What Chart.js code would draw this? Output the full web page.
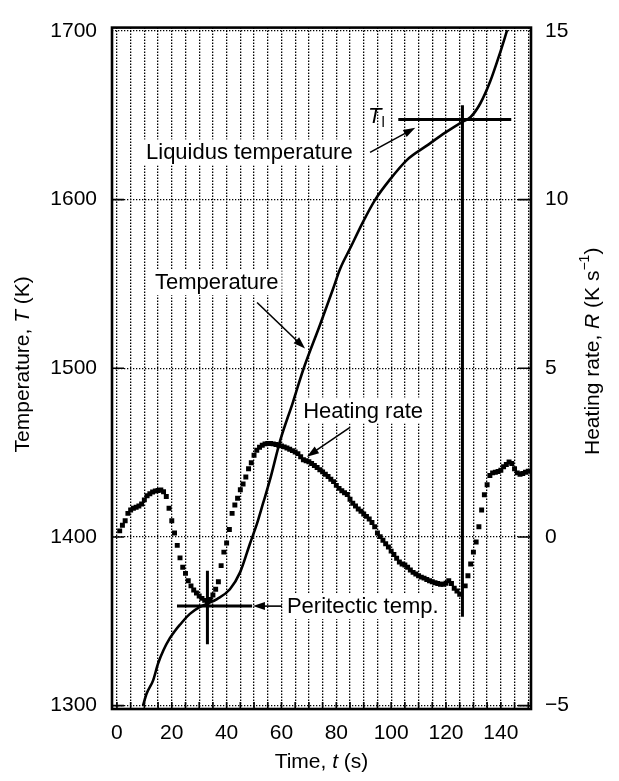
<!DOCTYPE html>
<html>
<head>
<meta charset="utf-8">
<script src="https://cdn.jsdelivr.net/npm/chart.js@4.4.1/dist/chart.umd.min.js"></script>
<style>
  html, body { margin: 0; padding: 0; background: #fff; }
  #wrap { width: 619px; height: 781px; }
</style>
</head>
<body>
<div id="wrap"><canvas id="heatingChart" width="619" height="781"></canvas></div>
<script>
// temperature curve (t in s, T in K)
const tempTimes = [9.5, 10.8, 13.2, 15, 17, 19.3, 21, 23, 26.6, 30.3, 32.8, 36.5, 41.2, 44.9, 48.5, 51.1,
    53.3, 56, 59.5, 64.2, 67.9, 74.1, 78.8, 81.4, 85, 89.8, 94.2, 99.6, 105.8, 113, 120, 125.8, 129,
    132.5, 136.1, 139.8, 142.3];
const tempValues = [1300, 1307, 1315, 1325, 1333, 1340, 1344, 1348, 1354.4, 1358.5, 1360.3, 1363.2, 1369,
    1379, 1396, 1408, 1420, 1435, 1457, 1480, 1499, 1526, 1547, 1559, 1571, 1587, 1600, 1612, 1623.6,
    1632, 1640, 1646, 1649, 1657, 1670, 1687.5, 1700.5];

// heating rate samples (t in s, R in K/s)
const rateTimes = [1, 2, 3, 4, 5, 6, 7, 8, 9, 10, 11, 12, 13, 14, 15, 16, 17, 18, 19, 20,
    21, 22, 23, 24, 25, 26, 27, 28, 29, 30, 31, 32, 33, 34, 35, 36, 37, 38, 39, 40,
    41, 42, 43, 44, 45, 46, 47, 48, 49, 50, 51, 52, 53, 54, 55, 56, 57, 58, 59, 60,
    61, 62, 63, 64, 65, 66, 67, 68, 69, 70, 71, 72, 73, 74, 75, 76, 77, 78, 79, 80,
    81, 82, 83, 84, 85, 86, 87, 88, 89, 90, 91, 92, 93, 94, 95, 96, 97, 98, 99, 100,
    101, 102, 103, 104, 105, 106, 107, 108, 109, 110, 111, 112, 113, 114, 115, 116, 117, 118, 119, 120,
    121, 122, 123, 124, 125, 127, 128, 129, 130, 131, 132, 133, 134, 135, 136, 137, 138, 139, 140,
    141, 142, 143, 144, 145, 146, 147, 148, 149, 150];
const rateValues = [0.18, 0.35, 0.48, 0.70, 0.80, 0.85, 0.88, 0.92, 0.98, 1.10, 1.22, 1.28, 1.33, 1.36, 1.38, 1.39, 1.34, 1.20, 0.85, 0.48,
    0.12, -0.25, -0.62, -0.90, -1.08, -1.30, -1.45, -1.57, -1.66, -1.75, -1.82, -1.88, -1.93, -1.85, -1.72, -1.55, -1.33, -0.85, -0.45, -0.18,
    0.22, 0.70, 0.95, 1.15, 1.40, 1.57, 1.78, 2.02, 2.20, 2.42, 2.57, 2.66, 2.72, 2.76, 2.77, 2.77, 2.76, 2.74, 2.72, 2.70,
    2.67, 2.64, 2.60, 2.56, 2.52, 2.47, 2.38, 2.29, 2.26, 2.23, 2.18, 2.12, 2.06, 1.99, 1.93, 1.86, 1.79, 1.71, 1.64, 1.53,
    1.44, 1.37, 1.31, 1.26, 1.12, 1.00, 0.92, 0.83, 0.76, 0.68, 0.61, 0.53, 0.43, 0.30, 0.12, 0.01, -0.10, -0.20, -0.30, -0.42,
    -0.52, -0.63, -0.74, -0.80, -0.83, -0.90, -0.98, -1.05, -1.10, -1.15, -1.19, -1.22, -1.26, -1.30, -1.33, -1.36, -1.38, -1.40, -1.40, -1.37,
    -1.30, -1.38, -1.52, -1.60, -1.70, -1.45, -1.15, -0.80, -0.45, -0.15, 0.30, 0.80, 1.25, 1.55, 1.82, 1.90, 1.92, 1.94, 1.98,
    2.08, 2.15, 2.22, 2.18, 2.02, 1.90, 1.86, 1.88, 1.92, 1.95];

// marker crosses
const liquidusTimes = [102.6, 143.8];
const liquidusTemps = [1647.5, 1647.5];
const liquidusMarkTimes = [126, 126];
const liquidusMarkTemps = [1656, 1352.7];
const peritecticTimes = [21.9, 49.3];
const peritecticTemps = [1359.1, 1359.1];
const peritecticMarkTimes = [33, 33];
const peritecticMarkTemps = [1380, 1336.4];

// ticks
const xGridTicks = [0, 5, 10, 15, 20, 25, 30, 35, 40, 45, 50, 55, 60, 65, 70, 75,
    80, 85, 90, 95, 100, 105, 110, 115, 120, 125, 130, 135, 140, 145, 150];
const xLabelTicks = [0, 20, 40, 60, 80, 100, 120, 140];
const tempTicks = [1300, 1400, 1500, 1600, 1700];
const rateTicks = [-5, 0, 5, 10, 15];

// text notes: [text, t, T] (left edge, vertical middle) and arrows [t0, T0, t1, T1]
const notes = [
    ["Liquidus temperature", 10.6, 1628],
    ["Temperature", 13.9, 1551],
    ["Heating rate", 67.9, 1475],
    ["Peritectic temp.", 62, 1359]
];
const arrows = [
    [92.3, 1628, 108.8, 1642.6],
    [51.1, 1539, 68.6, 1511.7],
    [85, 1465, 69.3, 1447.6],
    [60.2, 1359, 49.6, 1359]
];

const FONT = '"Liberation Sans", Arial, Helvetica, sans-serif';

const toPoints = (xs, ys) => xs.map((x, i) => ({ x, y: ys[i] }));
const fixTicks = (values) => (scale) => { scale.ticks = values.map((v) => ({ value: v })); };

function drawRuns(ctx, runs, cx, cy, rotate) {
    ctx.save();
    ctx.translate(cx, cy);
    if (rotate) ctx.rotate(-Math.PI / 2);
    let total = 0;
    runs.forEach((r) => {
        ctx.font = r.font;
        total += ctx.measureText(r.text).width;
    });
    let x = -total / 2;
    ctx.textBaseline = "middle";
    ctx.textAlign = "left";
    runs.forEach((r) => {
        ctx.font = r.font;
        ctx.fillText(r.text, x, r.dy || 0);
        x += ctx.measureText(r.text).width;
    });
    ctx.restore();
}

function arrowHead(ctx, x0, y0, x1, y1) {
    const a = Math.atan2(y1 - y0, x1 - x0);
    const len = 12, half = 4;
    ctx.beginPath();
    ctx.moveTo(x1, y1);
    ctx.lineTo(x1 - len * Math.cos(a) + half * Math.sin(a), y1 - len * Math.sin(a) - half * Math.cos(a));
    ctx.lineTo(x1 - len * Math.cos(a) - half * Math.sin(a), y1 - len * Math.sin(a) + half * Math.cos(a));
    ctx.closePath();
    ctx.fill();
}

const framePlugin = {
    id: "frameAndNotes",
    afterDatasetsDraw(chart) {
        const { ctx, chartArea: area, scales } = chart;
        const xs = scales.x, ys = scales.y, ys2 = scales.y2;
        ctx.save();
        ctx.strokeStyle = "#000";
        ctx.fillStyle = "#000";

        // inward ticks
        ctx.lineWidth = 1.6;
        ctx.beginPath();
        xGridTicks.forEach((t) => {
            const px = xs.getPixelForValue(t);
            ctx.moveTo(px, area.bottom);
            ctx.lineTo(px, area.bottom - 7);
        });
        tempTicks.slice(0, 4).forEach((v) => {
            const py = ys.getPixelForValue(v);
            ctx.moveTo(area.left, py);
            ctx.lineTo(area.left + 12, py);
        });
        rateTicks.slice(0, 4).forEach((v) => {
            const py = ys2.getPixelForValue(v);
            ctx.moveTo(area.right, py);
            ctx.lineTo(area.right - 13, py);
        });
        ctx.stroke();

        // frame
        ctx.lineWidth = 2.6;
        ctx.strokeRect(area.left, area.top, area.right - area.left, area.bottom - area.top);

        // notes with white backing
        ctx.font = "22px " + FONT;
        ctx.textBaseline = "middle";
        ctx.textAlign = "left";
        notes.forEach(([text, t, T]) => {
            const px = xs.getPixelForValue(t);
            const py = ys.getPixelForValue(T);
            const w = ctx.measureText(text).width;
            ctx.fillStyle = "#fff";
            ctx.fillRect(px - 3, py - 13, w + 6, 26);
            ctx.fillStyle = "#000";
            ctx.fillText(text, px, py + 1);
        });

        // T_l label
        const tlx = xs.getPixelForValue(91.6);
        const tly = ys.getPixelForValue(1649);
        ctx.font = "italic 22px " + FONT;
        ctx.fillText("T", tlx, tly);
        const tw = ctx.measureText("T").width;
        ctx.font = "15px " + FONT;
        ctx.fillText("l", tlx + tw, tly + 6);

        // arrows
        ctx.lineWidth = 1.6;
        arrows.forEach(([t0, T0, t1, T1]) => {
            const x0 = xs.getPixelForValue(t0), y0 = ys.getPixelForValue(T0);
            const x1 = xs.getPixelForValue(t1), y1 = ys.getPixelForValue(T1);
            const a = Math.atan2(y1 - y0, x1 - x0);
            ctx.beginPath();
            ctx.moveTo(x0, y0);
            ctx.lineTo(x1 - 8 * Math.cos(a), y1 - 8 * Math.sin(a));
            ctx.stroke();
            arrowHead(ctx, x0, y0, x1, y1);
        });

        // axis titles
        const midY = (area.top + area.bottom) / 2;
        const f = "21px " + FONT, fi = "italic 21px " + FONT;
        drawRuns(ctx, [
            { text: "Temperature, ", font: f },
            { text: "T", font: fi },
            { text: " (K)", font: f }
        ], area.left - 89, midY - 4, true);
        drawRuns(ctx, [
            { text: "Heating rate, ", font: f },
            { text: "R", font: fi },
            { text: " (K s", font: f },
            { text: "\u22121", font: "14px " + FONT, dy: -8 },
            { text: ")", font: f }
        ], area.right + 62, midY - 17, true);
        drawRuns(ctx, [
            { text: "Time, ", font: f },
            { text: "t", font: fi },
            { text: " (s)", font: f }
        ], (area.left + area.right) / 2, area.bottom + 53, false);

        ctx.restore();
    }
};

const lineStyle = {
    showLine: true,
    borderColor: "#000",
    borderWidth: 3,
    pointRadius: 0,
    yAxisID: "y"
};

const tickFont = { family: FONT, size: 21 };

new Chart(document.getElementById("heatingChart"), {
    type: "scatter",
    data: {
        datasets: [
            {
                label: "Heating rate",
                data: toPoints(rateTimes, rateValues),
                yAxisID: "y2",
                showLine: false,
                pointStyle: "rect",
                pointRadius: 3.5,
                pointBorderWidth: 0,
                backgroundColor: "#000",
                borderColor: "#000"
            },
            {
                ...lineStyle,
                label: "Temperature",
                data: toPoints(tempTimes, tempValues),
                borderWidth: 2.6,
                cubicInterpolationMode: "monotone"
            },
            { ...lineStyle, label: "T_l", data: toPoints(liquidusTimes, liquidusTemps) },
            { ...lineStyle, label: "T_l mark", data: toPoints(liquidusMarkTimes, liquidusMarkTemps) },
            { ...lineStyle, label: "Peritectic", data: toPoints(peritecticTimes, peritecticTemps) },
            { ...lineStyle, label: "Peritectic mark", data: toPoints(peritecticMarkTimes, peritecticMarkTemps) }
        ]
    },
    options: {
        responsive: false,
        animation: false,
        layout: { padding: { top: 15, left: 0, right: 0, bottom: 0 } },
        plugins: {
            legend: { display: false },
            tooltip: { enabled: false }
        },
        scales: {
            x: {
                type: "linear",
                min: -1.8,
                max: 151,
                afterBuildTicks: fixTicks(xGridTicks),
                afterFit: (scale) => { scale.height = 72; },
                grid: { color: "#000", lineWidth: 1.3, drawTicks: false },
                border: { display: false, dash: [1.3, 1.7] },
                ticks: {
                    autoSkip: false,
                    maxRotation: 0,
                    padding: 12,
                    color: "#000",
                    font: tickFont,
                    callback: (v) => (xLabelTicks.includes(v) ? String(v) : "")
                }
            },
            y: {
                position: "left",
                min: 1298,
                max: 1702,
                afterBuildTicks: fixTicks(tempTicks),
                afterFit: (scale) => { scale.width = 112; },
                grid: { color: "#000", lineWidth: 1.3, drawTicks: false },
                border: { display: false, dash: [1.3, 1.7] },
                ticks: {
                    padding: 15,
                    color: "#000",
                    font: tickFont,
                    callback: (v) => String(v)
                }
            },
            y2: {
                position: "right",
                min: -5.1,
                max: 15.1,
                afterBuildTicks: fixTicks(rateTicks),
                afterFit: (scale) => { scale.width = 88; },
                grid: { display: false, drawTicks: false },
                border: { display: false },
                ticks: {
                    padding: 14,
                    color: "#000",
                    font: tickFont,
                    callback: (v) => (v < 0 ? "\u2212" + Math.abs(v) : String(v))
                }
            }
        }
    },
    plugins: [framePlugin]
});
</script>
</body>
</html>
